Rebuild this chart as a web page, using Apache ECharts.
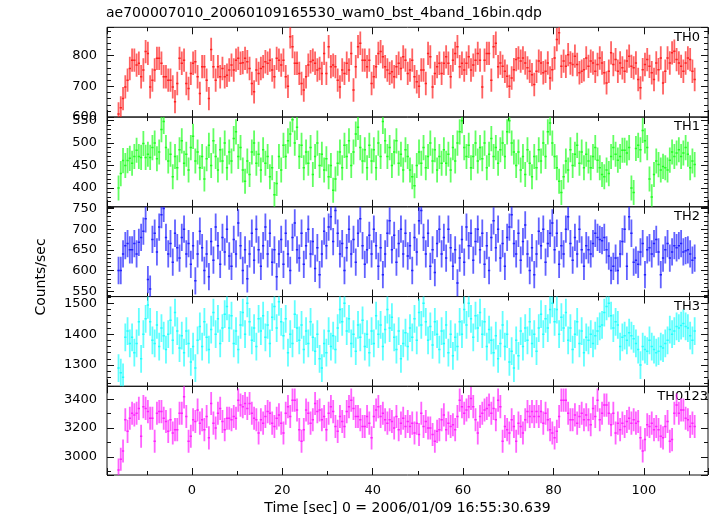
<!DOCTYPE html>
<html><head><meta charset="utf-8">
<script src="https://cdn.jsdelivr.net/npm/echarts@6/dist/echarts.min.js"></script>
<style>html,body{margin:0;padding:0;background:#fff}#c{width:717px;height:516px}</style>
</head><body><div id="c"></div>
<script>
const chartTitle = 'ae700007010_20060109165530_wam0_bst_4band_16bin.qdp';
const panelNames = ['TH0', 'TH1', 'TH2', 'TH3', 'TH0123'];
const xTitle = 'Time [sec] 0 = 2006/01/09 16:55:30.639';
const yTitle = 'Counts/sec';
const binStart = -16.5;
const binWidth = 0.5;
const th0 = [610,630,660,698,720,758,785,785,769,775,
731,753,813,807,698,720,753,791,791,775,
731,731,720,720,698,650,709,791,775,785,
709,693,742,775,780,731,677,764,764,720,
660,820,764,720,764,731,758,731,736,753,
769,753,785,791,775,777,791,780,758,709,
682,753,742,758,764,780,775,785,753,731,
791,785,769,785,731,700,861,829,775,775,
742,709,688,731,769,780,785,775,753,758,
742,807,742,829,764,769,764,720,698,753,
742,775,753,807,688,764,829,840,785,785,
764,785,709,731,764,807,813,796,764,753,
742,747,731,764,775,758,796,785,742,753,
785,731,715,700,753,753,709,807,796,698,
742,764,775,742,775,796,775,731,785,807,
829,764,775,753,775,796,753,769,785,807,
785,698,785,807,807,720,829,840,764,776,
765,749,733,700,727,754,787,792,782,792,
776,760,749,738,706,749,782,776,744,749,
776,727,754,792,852,874,765,782,765,803,
776,771,798,771,744,749,754,792,765,782,
776,749,771,792,776,744,711,749,809,771,
787,749,776,760,749,782,798,765,760,776,
722,695,754,771,787,765,744,722,776,754,
792,711,749,792,776,809,814,787,776,765,
749,776,792,787,749,722];
const th1 = [400,432,461,450,461,466,455,470,484,470,468,499,468,475,468,490,
500,465,480,530,548,490,460,475,425,470,445,485,505,455,475,440,
490,515,460,480,445,470,420,465,495,450,505,470,440,485,460,500,
445,480,460,510,525,470,490,440,415,460,430,480,500,455,475,440,
485,455,470,425,445,385,410,470,440,495,470,505,520,552,500,535,
470,495,445,480,455,490,430,470,500,450,475,440,465,425,450,395,
420,455,480,445,495,470,505,450,480,520,535,490,460,485,445,495,
460,485,445,500,470,548,505,470,490,450,480,505,455,475,440,485,
470,440,425,405,450,480,455,490,445,470,500,460,485,440,470,455,
485,455,475,440,490,460,500,525,550,490,470,495,445,470,500,460,
490,465,500,445,475,510,470,490,455,485,500,470,525,550,500,480,
450,480,440,470,430,485,455,425,470,445,485,460,500,470,525,545,
500,470,445,415,390,425,460,440,485,450,475,495,455,480,445,475,
460,445,470,490,462,445,430,425,440,432,470,490,475,462,470,484,
484,478,490,400,390,488,495,485,528,505,490,420,380,430,460,452,
440,448,445,440,462,480,470,478,485,470,478,490,475,445,460,452];
const th2 = [600,600,640,660,665,650,650,665,640,668,680,695,725,578,555,675,
690,645,705,735,750,680,640,665,620,690,655,630,680,700,640,665,
615,660,575,640,695,655,600,640,585,670,625,705,660,615,680,645,
700,635,610,675,640,715,660,600,650,580,640,690,625,700,650,610,
660,705,640,690,620,650,585,640,675,615,690,640,600,680,715,650,
630,690,615,660,700,640,670,605,655,590,640,695,660,705,730,670,
745,690,640,665,600,655,700,640,675,620,690,725,660,615,650,685,
640,700,660,610,655,590,640,690,720,650,685,620,665,700,640,690,
635,660,600,680,645,720,745,680,640,690,610,650,595,665,700,640,
680,630,700,655,610,650,570,630,675,620,705,660,690,625,670,700,
650,690,615,660,600,680,720,655,700,630,665,610,680,705,735,665,
640,690,625,670,710,640,600,655,590,640,695,660,700,620,665,690,
715,650,690,615,660,640,700,730,665,625,680,640,700,650,610,660,
650,640,665,690,680,675,672,680,650,635,600,610,630,600,640,670,
700,610,730,690,620,625,615,645,665,590,650,655,640,665,675,645,
590,630,650,665,630,645,660,655,660,665,645,648,650,640,625,630];
const th3 = [1290,1275,1260,1390,1410,1370,1390,1340,1370,1440,1320,1400,1450,1495,1440,1380,
1370,1430,1360,1420,1395,1350,1400,1445,1380,1470,1410,1355,1395,1340,1410,1370,
1310,1360,1290,1380,1425,1360,1440,1390,1350,1415,1470,1400,1450,1370,1420,1465,
1490,1420,1460,1370,1410,1350,1430,1470,1400,1500,1440,1380,1420,1360,1450,1410,
1460,1390,1430,1370,1455,1490,1420,1505,1440,1395,1450,1340,1400,1370,1465,1420,
1380,1430,1350,1410,1370,1440,1390,1345,1400,1320,1290,1370,1340,1410,1360,1395,
1350,1420,1480,1440,1500,1410,1450,1370,1400,1345,1430,1390,1445,1360,1400,1340,
1410,1370,1460,1400,1430,1360,1415,1480,1420,1455,1390,1350,1410,1320,1370,1405,
1360,1420,1390,1450,1380,1470,1430,1500,1440,1380,1425,1365,1440,1400,1350,1410,
1370,1430,1340,1400,1330,1390,1360,1440,1400,1480,1430,1500,1450,1390,1460,1420,
1470,1400,1440,1360,1415,1380,1340,1395,1320,1370,1430,1360,1400,1310,1345,1290,
1380,1330,1410,1360,1420,1380,1440,1370,1400,1345,1420,1465,1400,1450,1420,1480,
1500,1440,1480,1400,1455,1420,1470,1380,1420,1350,1400,1440,1370,1410,1340,1390,
1380,1400,1370,1395,1410,1425,1430,1470,1490,1500,1460,1420,1440,1430,1360,1390,
1395,1380,1405,1395,1385,1370,1350,1300,1360,1350,1345,1380,1360,1350,1340,1345,
1360,1355,1370,1380,1415,1400,1410,1425,1420,1428,1435,1425,1420,1395,1380,1410];
const th0123 = [2910,2984,3041,3257,3177,3268,3302,3291,3302,3336,3143,3348,3336,3314,3268,
3268,
3109,3302,3314,3314,3268,3245,3177,3257,3166,3189,
3189,3302,3302,3416,3280,3109,3143,3257,3245,3325,
3234,3257,3189,3280,3132,3370,3234,3200,3302,3336,
3245,3189,3268,3268,3257,3280,3268,3393,3359,3348,
3370,3336,3370,3302,3268,3257,3166,3257,3234,3280,
3314,3302,3234,3211,3268,3291,3234,3166,3302,3348,
3280,3393,3393,3325,3189,3109,3189,3325,3302,3234,
3257,3370,3314,3325,3257,3280,3189,3302,3348,3314,
3211,3177,3280,3245,3211,3314,3348,3393,3336,3280,
3280,
3257,3211,3211,3280,3234,3132,3280,3325,3348,3280,
3302,3257,3234,3257,3245,3200,3280,3189,3234,3268,
3211,3245,3211,3234,3166,3234,3155,3302,3211,3245,
3200,3200,3155,3109,3177,3189,3257,3291,3189,3234,
3211,3223,3189,3280,3393,3348,3302,3325,3348,3405,
3348,3257,3166,3280,3302,3325,3336,3359,3302,3336,
3257,3393,3348,3109,3211,3189,3166,3257,3211,3109,
3234,3211,3166,3257,3314,3280,3314,3280,3314,3280,
3314,3234,3302,3257,3189,3166,3132,3177,3280,3393,
3393,
3393,3302,3257,3257,3291,3234,3280,3302,3257,3291,
3257,3223,3336,3280,3393,3257,3302,3359,3359,3302,
3223,3302,3166,3234,3189,3234,3211,3245,3268,3234,
3257,3234,3245,3132,3041,3120,3223,3211,3234,3189,
3211,3189,3143,3132,3211,3245,3109,3120,3302,3359,
3302,3325,3325,3268,3257,3211,3234,3211];
const errHalf = [38, 28, 33, 45, 80];

const panels = [th0, th1, th2, th3, th0123];
const yMin = [600, 358, 537, 1231, 2875];
const yMax = [892, 558, 754, 1522, 3489];
const yStep = [100, 50, 50, 100, 200];
const yMinor = [5, 5, 5, 5, 2];
const colors = ['#ff2020', '#20ff20', '#2020ff', '#20ffff', '#ff20ff'];
const FONT = 'DejaVu Sans';

const chart = echarts.init(document.getElementById('c'), null, {renderer: 'canvas'});
const grids = [], xAxes = [], yAxes = [], series = [], graphics = [];
const gTop = 27.3, gH = 89.75;
for (let p = 0; p < 5; p++) {
  grids.push({left: 107, right: 9, top: gTop + p * gH, height: gH, show: true,
    borderColor: '#111', borderWidth: 1, backgroundColor: 'transparent'});
  const tickStyle = {color: '#111', width: 1};
  const xb = {type: 'value', gridIndex: p, min: -18.8, max: 114.2, minInterval: 20, maxInterval: 20,
    splitLine: {show: false}, axisLine: {show: false, onZero: false},
    axisTick: {show: true, inside: true, length: 7, lineStyle: tickStyle},
    minorTick: {show: true, splitNumber: 2, length: 4, lineStyle: tickStyle}};
  xAxes.push(Object.assign({}, xb, {position: 'bottom',
    axisLabel: {show: p === 4, margin: 9, color: '#000', fontFamily: FONT, fontSize: 13,
      formatter: v => (Math.abs(v % 20) < 1e-6 ? String(v) : '')},
    name: p === 4 ? xTitle : '', nameLocation: 'middle', nameGap: 26,
    nameTextStyle: {color: '#000', fontFamily: FONT, fontSize: 14}}));
  xAxes.push(Object.assign({}, xb, {position: 'top', axisLabel: {show: false}}));
  const yb = {type: 'value', gridIndex: p, min: yMin[p], max: yMax[p],
    minInterval: yStep[p], maxInterval: yStep[p],
    splitLine: {show: false}, axisLine: {show: false, onZero: false},
    axisTick: {show: true, inside: true, length: 7, lineStyle: tickStyle},
    minorTick: {show: true, splitNumber: yMinor[p], length: 4, lineStyle: tickStyle}};
  yAxes.push(Object.assign({}, yb, {position: 'left',
    axisLabel: {show: true, margin: 10, color: '#000', fontFamily: FONT, fontSize: 13,
      formatter: v => (Math.abs(v % yStep[p]) < 1e-6 ? String(v) : '')}}));
  yAxes.push(Object.assign({}, yb, {position: 'right', axisLabel: {show: false}}));

  const col = colors[p];
  const eh = errHalf[p];
  series.push({
    type: 'custom', xAxisIndex: 2 * p, yAxisIndex: 2 * p, clip: true, animation: false,
    data: panels[p].map((v, i) => [binStart + binWidth * (i + 0.5), v, eh]),
    renderItem: (params, api) => {
      const t = api.value(0), v = api.value(1), e = api.value(2);
      const a = api.coord([t - binWidth / 2, v]);
      const b = api.coord([t + binWidth / 2, v]);
      const top = api.coord([t, v + e]);
      const bot = api.coord([t, v - e]);
      return {type: 'group', children: [
        {type: 'line', shape: {x1: top[0], y1: top[1], x2: bot[0], y2: bot[1]},
          style: {stroke: col, lineWidth: 1.8, opacity: 0.7}},
        {type: 'line', shape: {x1: a[0], y1: a[1], x2: b[0], y2: b[1]},
          style: {stroke: col, lineWidth: 1.5}}
      ]};
    }
  });
  graphics.push({type: 'text', x: p === 4 ? 708 : 700, y: gTop + p * gH + 10,
    style: {text: panelNames[p], fill: '#000', font: '13px "DejaVu Sans"',
      align: 'right', verticalAlign: 'middle', textAlign: 'right', textVerticalAlign: 'middle'}});
}
graphics.push({type: 'text', x: 41, y: 277, rotation: Math.PI / 2,
  style: {text: yTitle, fill: '#000', font: '14px "DejaVu Sans"',
    align: 'center', verticalAlign: 'middle', textAlign: 'center', textVerticalAlign: 'middle'}});

chart.setOption({
  backgroundColor: '#fff',
  animation: false,
  title: {text: chartTitle, left: 106, top: 6, padding: 0,
    textStyle: {color: '#000', fontFamily: FONT, fontSize: 14, fontWeight: 'normal'}},
  grid: grids, xAxis: xAxes, yAxis: yAxes, series: series, graphic: graphics
});
</script></body></html>
